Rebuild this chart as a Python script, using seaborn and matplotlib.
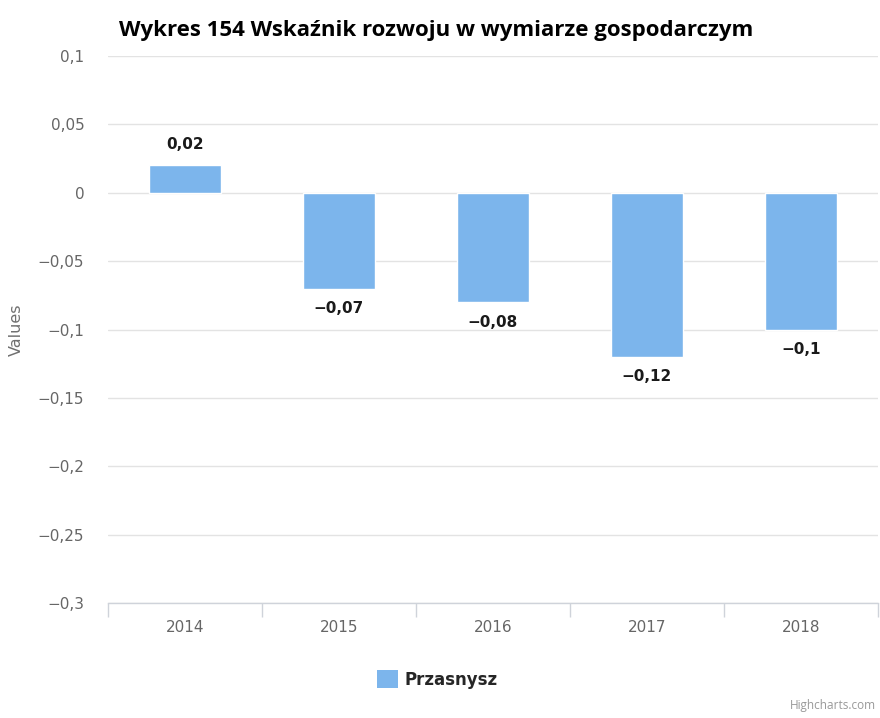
import matplotlib
matplotlib.use("Agg")
import matplotlib.pyplot as plt
import seaborn as sns
import pandas as pd
import numpy as np
from matplotlib.patches import Patch

years = ["2014", "2015", "2016", "2017", "2018"]
values = [0.02, -0.07, -0.08, -0.12, -0.1]
labels = ["0,02", "\u22120,07", "\u22120,08", "\u22120,12", "\u22120,1"]
series_name = "Przasnysz"
yticks = [0.1, 0.05, 0, -0.05, -0.1, -0.15, -0.2, -0.25, -0.3]
ytick_labels = ["0,1", "0,05", "0", "\u22120,05", "\u22120,1", "\u22120,15", "\u22120,2", "\u22120,25", "\u22120,3"]

sns.set_theme(style="white")
plt.rcParams['font.family'] = ['DejaVu Sans']

df = pd.DataFrame({"year": years, "value": values, "series": series_name})

fig = plt.figure(figsize=(8.8, 7.18), dpi=100)
ax = fig.add_axes([0.1227, 0.160, 0.875, 0.762])

sns.barplot(data=df, x="year", y="value", hue="series", palette=["#7cb5ec"],
            width=0.47, ax=ax, saturation=1, legend=False)

ax.set_ylim(-0.3, 0.1)
ax.set_xlim(-0.5, 4.5)
ax.set_yticks(yticks)
ax.set_yticklabels(ytick_labels)
ax.yaxis.grid(True, color="#e3e3e3", linewidth=1)
ax.set_axisbelow(True)
for s in ["top", "right", "left"]:
    ax.spines[s].set_visible(False)
ax.spines["bottom"].set_color("#cfd3da")
ax.spines["bottom"].set_linewidth(1)

ax.tick_params(axis="y", length=0, labelsize=11, labelcolor="#666666", pad=17)
ax.set_xticks(range(len(years)))
ax.set_xticklabels(years)
ax.set_xticks(np.arange(-0.5, 5.0, 1.0), minor=True)
ax.tick_params(axis="x", which="major", bottom=True, length=0, labelsize=11,
               labelcolor="#666666", pad=12)
ax.tick_params(axis="x", which="minor", bottom=True, length=10, width=1,
               color="#cfd3da", direction="out")

ax.set_xlabel("")
ax.set_ylabel("Values", color="#707070", fontsize=11.5, labelpad=10)

for i, (v, lab) in enumerate(zip(values, labels)):
    if v >= 0:
        ax.annotate(lab, (i, v), xytext=(0, 10), textcoords="offset points",
                    ha="center", va="bottom", fontsize=11, fontweight="bold", color="#1a1a1a")
    else:
        ax.annotate(lab, (i, v), xytext=(0, -9), textcoords="offset points",
                    ha="center", va="top", fontsize=11, fontweight="bold", color="#1a1a1a")

fig.text(0.496, 0.957, "Wykres 154 Wskaźnik rozwoju w wymiarze gospodarczym",
         ha="center", va="center", fontsize=16, fontweight="bold", color="black",
         family=["Open Sans", "DejaVu Sans"])

handle = Patch(facecolor="#7cb5ec", edgecolor="none", label=series_name)
fig.legend(handles=[handle], loc="center", bbox_to_anchor=(0.497, 0.054), frameon=False,
           prop={"weight": "bold", "size": 12}, handlelength=1.3, handleheight=1.3,
           handletextpad=0.4)

fig.text(0.996, 0.008, "Highcharts.com", ha="right", va="bottom", fontsize=8.5, color="#999999",
         family=["Open Sans", "DejaVu Sans"])

fig.savefig("out.png", dpi=100)
